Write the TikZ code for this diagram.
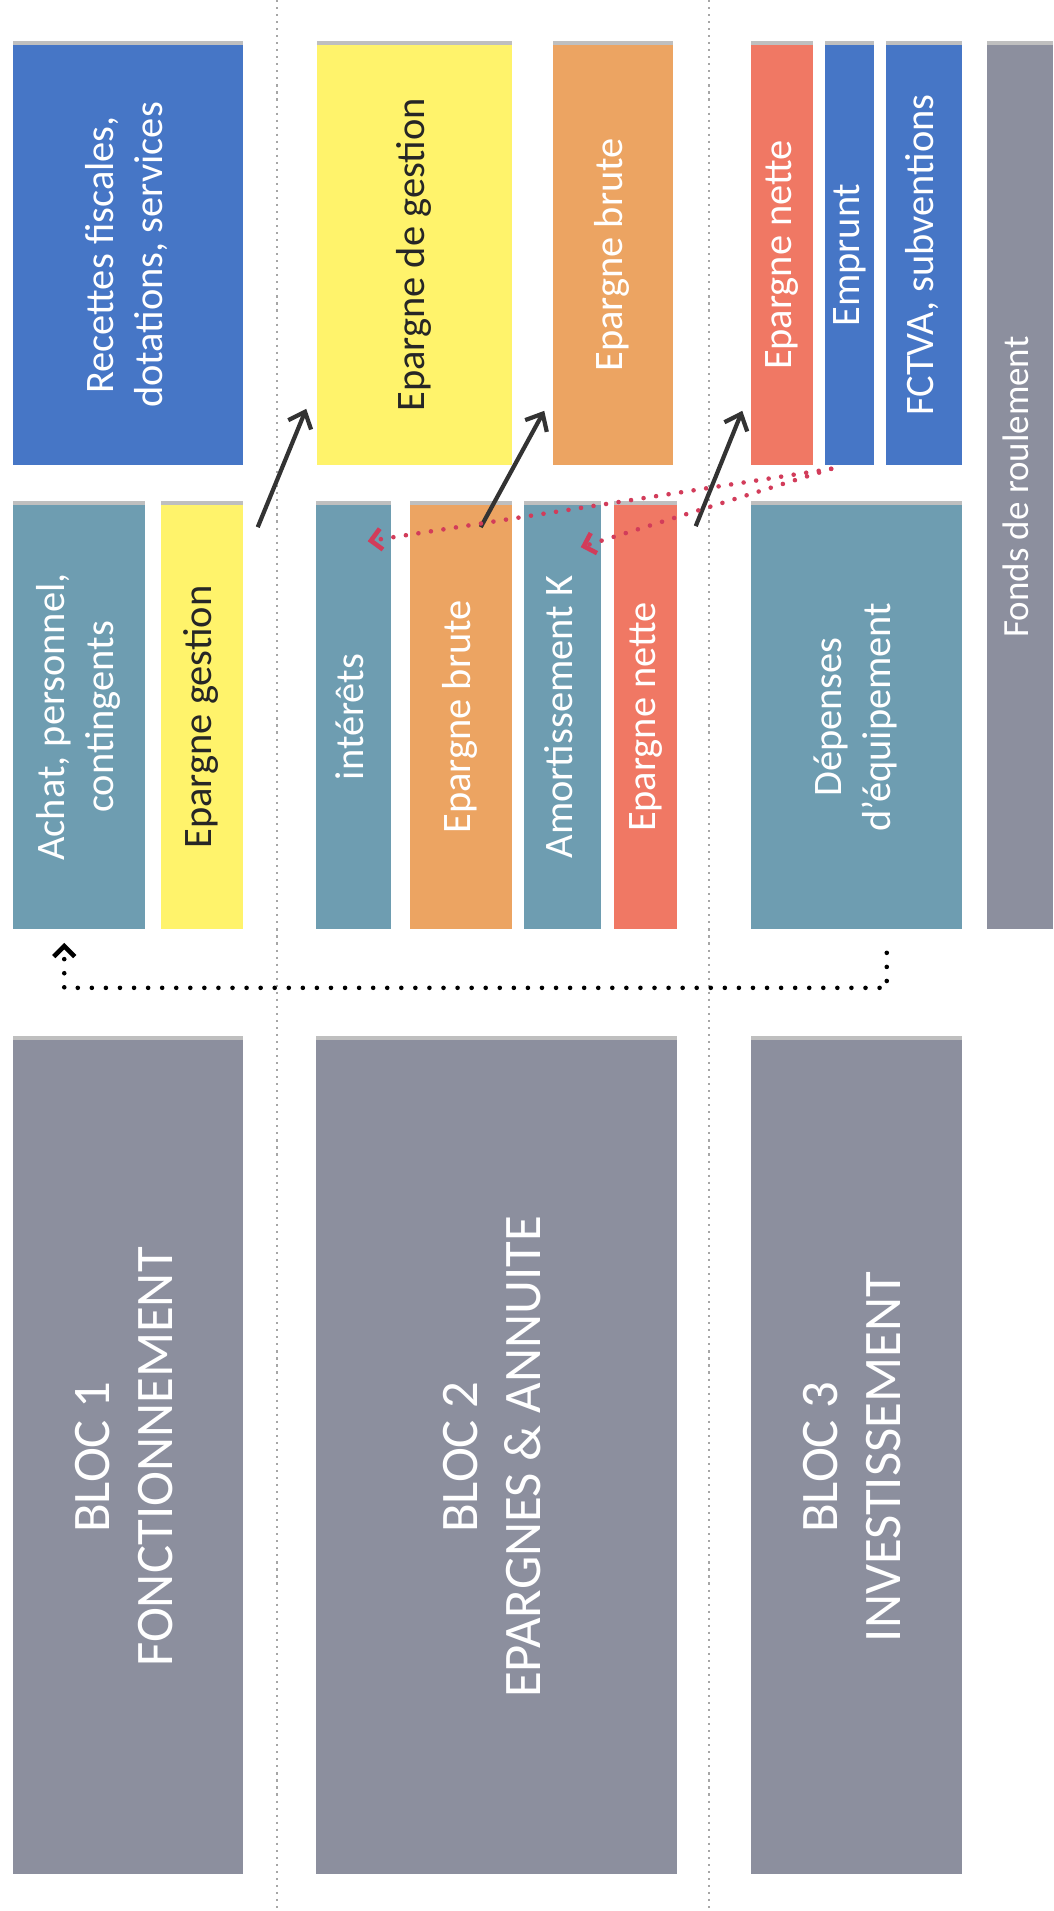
\documentclass[tikz,border=0pt]{standalone}
\usepackage{fontspec}
\setmainfont{Carlito}
\usepackage{graphicx}
\usetikzlibrary{arrows.meta,calc}

\definecolor{bleu}{HTML}{4676C6}
\definecolor{jaune}{HTML}{FFF36B}
\definecolor{orange}{HTML}{ECA462}
\definecolor{rouge}{HTML}{F07864}
\definecolor{canard}{HTML}{6E9DB1}
\definecolor{gris}{HTML}{8C8F9E}
\definecolor{pointille}{HTML}{D23C5A}
\definecolor{trait}{HTML}{333333}

\newcommand{\vlabel}[1]{\rotatebox{90}{\begin{tabular}{@{}c@{}}#1\end{tabular}}}

\begin{document}
\begin{tikzpicture}[x=0.01cm, y=-0.01cm,
  boite/.style={rectangle, inner sep=0pt, fill=#1, text=white,
    font=\fontsize{11.5}{14}\selectfont,
    preaction={fill=black!25, transform canvas={yshift=1.2pt}}},
  gros/.style={font=\fontsize{15}{18}\selectfont},
  fleche/.style={draw=trait, line width=1.2pt, -{Straight Barb[length=4pt,width=7pt]}},
  renvoi/.style={draw=pointille, line width=1.3pt, line cap=round,
    dash pattern=on 0pt off 3.6pt, -{Straight Barb[length=3pt,width=6pt]}},
  retour/.style={draw=black, line width=1.3pt, line cap=round,
    dash pattern=on 0pt off 4pt, -{Straight Barb[length=3pt,width=6pt]}},
  separation/.style={draw=black!35, line width=0.7pt, dash pattern=on 0.6pt off 1.4pt}]

\useasboundingbox (0,0) rectangle (1053,1911);

% separations
\draw[separation] (277,0) -- (277,1911);
\draw[separation] (709,0) -- (709,1911);

% ligne du haut
\node[boite=bleu, minimum width=2.30cm, minimum height=4.20cm] (recettes) at (128,255)
  {\vlabel{Recettes fiscales,\\dotations, services}};
\node[boite=jaune, text=black!85, minimum width=1.95cm, minimum height=4.20cm] (degestion) at (414.5,255)
  {\vlabel{Epargne de gestion}};
\node[boite=orange, minimum width=1.20cm, minimum height=4.20cm] (brutehaut) at (613,255)
  {\vlabel{Epargne brute}};
\node[boite=rouge, minimum width=0.62cm, minimum height=4.20cm] (nettehaut) at (782,255)
  {\vlabel{Epargne nette}};
\node[boite=bleu, minimum width=0.47cm, minimum height=4.20cm] (emprunt) at (849.5,255)
  {\vlabel{Emprunt}};
\node[boite=bleu, minimum width=0.76cm, minimum height=4.20cm] (fctva) at (924,255)
  {\vlabel{FCTVA, subventions}};
\node[boite=gris, font=\fontsize{10.5}{12}\selectfont, minimum width=0.66cm, minimum height=8.84cm] (fonds) at (1020,487)
  {\vlabel{Fonds de roulement}};

% ligne du milieu
\node[boite=canard, minimum width=1.32cm, minimum height=4.24cm] (achat) at (79,717)
  {\vlabel{Achat, personnel,\\contingents}};
\node[boite=jaune, text=black!85, minimum width=0.82cm, minimum height=4.24cm] (gestion) at (202,717)
  {\vlabel{Epargne gestion}};
\node[boite=canard, minimum width=0.75cm, minimum height=4.24cm] (interets) at (353.5,717)
  {\vlabel{intérêts}};
\node[boite=orange, minimum width=1.02cm, minimum height=4.24cm] (brutebas) at (461,717)
  {\vlabel{Epargne brute}};
\node[boite=canard, minimum width=0.77cm, minimum height=4.24cm] (amort) at (562.5,717)
  {\vlabel{Amortissement K}};
\node[boite=rouge, minimum width=0.63cm, minimum height=4.24cm] (nettebas) at (645.5,717)
  {\vlabel{Epargne nette}};
\node[boite=canard, minimum width=2.11cm, minimum height=4.24cm] (depenses) at (856.5,717)
  {\vlabel{Dépenses\\d’équipement}};

% blocs
\node[boite=gris, gros, minimum width=2.30cm, minimum height=8.34cm] (bloc1) at (128,1457)
  {\vlabel{BLOC 1\\FONCTIONNEMENT}};
\node[boite=gris, gros, minimum width=3.61cm, minimum height=8.34cm] (bloc2) at (496.5,1457)
  {\vlabel{BLOC 2\\EPARGNES \& ANNUITE}};
\node[boite=gris, gros, minimum width=2.11cm, minimum height=8.34cm] (bloc3) at (856.5,1457)
  {\vlabel{BLOC 3\\INVESTISSEMENT}};

% fleches
\draw[fleche] ($(gestion.north east)+(14,23)$) -- ($(degestion.south west)+(-10,-57)$);
\draw[fleche] ($(brutebas.north east)+(-32,23)$) -- ($(brutehaut.south west)+(-8,-55)$);
\draw[fleche] ($(nettebas.north east)+(18,22)$) -- ($(nettehaut.south west)+(-8,-55)$);

\coordinate (depart) at ($(emprunt.south west)+(7,3)$);
\draw[renvoi] (depart) -- ($(amort.north east)+(-21,43)$);
\draw[renvoi] (depart) -- ($(interets.north east)+(-24,37)$);

\draw[retour] ($(depenses.south east)+(-76,23)$) -- ++(0,35) -| ($(achat.south west)+(52,13)$);

\end{tikzpicture}
\end{document}
